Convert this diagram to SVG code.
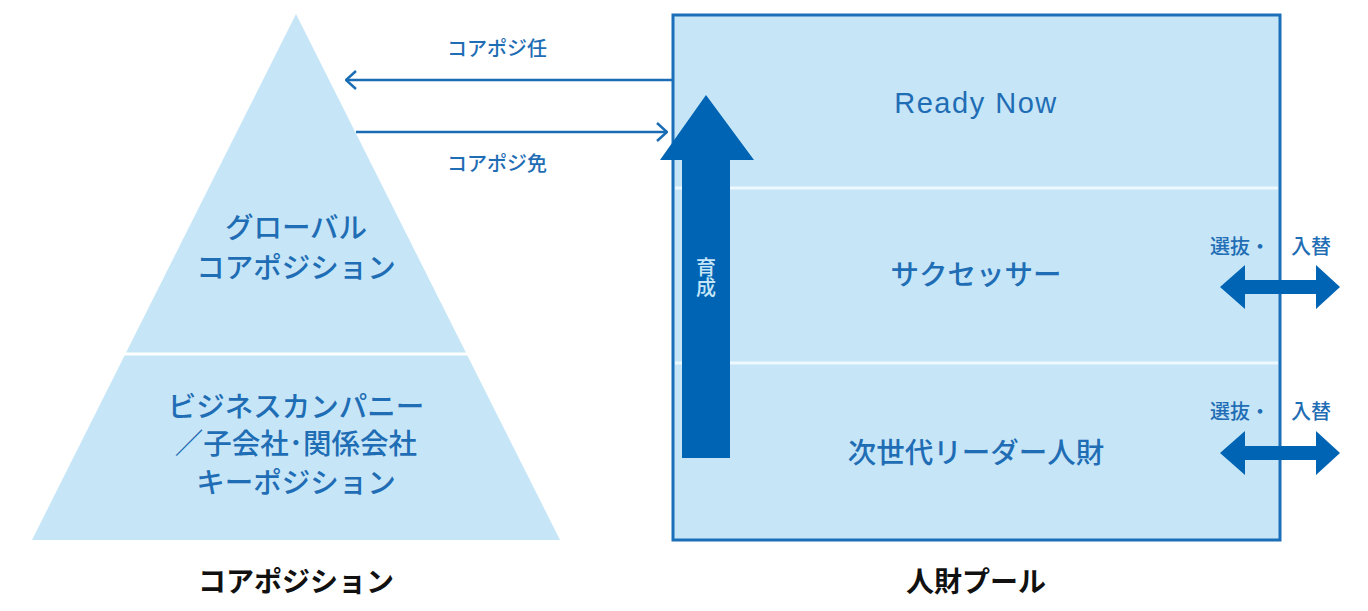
<svg xmlns="http://www.w3.org/2000/svg" width="1368" height="611" viewBox="0 0 1368 611">
<style>
.t{font-family:"Noto Sans CJK JP","Noto Sans",sans-serif;fill:#1f6db4;text-anchor:middle;font-weight:500}
.big{font-size:28.5px}
.sm{font-size:20px}
.lbl{font-family:"Noto Sans CJK JP","Noto Sans",sans-serif;font-size:28px;font-weight:bold;fill:#111;text-anchor:middle}
.fill{fill:#c6e6f8}
.dark{fill:#0064b4}
</style>
<defs>
<marker id="chev" viewBox="0 0 12 20" refX="11" refY="10" markerWidth="12" markerHeight="20" markerUnits="userSpaceOnUse" orient="auto">
<path d="M1,1 L11,10 L1,19" fill="none" stroke="#1a6db5" stroke-width="2.5"/>
</marker>
</defs>
<rect width="1368" height="611" fill="#fff"/>
<g id="pyramid">
<polygon class="fill" points="296,14 560,540 32,540"/>
<line x1="100" y1="354" x2="492" y2="354" stroke="#fff" stroke-width="3"/>
<text class="t big" x="296" y="238">グローバル</text>
<text class="t big" x="296" y="278">コアポジション</text>
<text class="t big" x="296" y="417">ビジネスカンパニー</text>
<text class="t big" x="296" y="454">／子会社･関係会社</text>
<text class="t big" x="296" y="493">キーポジション</text>
<text class="lbl" x="296" y="592">コアポジション</text>
</g>
<g id="pool">
<rect class="fill" x="673" y="15" width="607" height="525" stroke="#1a6fb8" stroke-width="3"/>
<line x1="675" y1="188" x2="1278" y2="188" stroke="#eef8ff" stroke-width="3"/>
<line x1="675" y1="363" x2="1278" y2="363" stroke="#eef8ff" stroke-width="3"/>
<text class="t" x="976" y="113" style="font-family:'Liberation Sans',Arial,sans-serif;font-size:29px;letter-spacing:1.5px;font-weight:normal">Ready Now</text>
<text class="t big" x="976" y="285">サクセッサー</text>
<text class="t big" x="976" y="463">次世代リーダー人財</text>
<text class="lbl" x="976" y="592">人財プール</text>
</g>
<g id="grow">
<polygon class="dark" points="706,95 754,160 730,160 730,458 682,458 682,160 660,160"/>
<text class="t" x="706" y="257" style="fill:#c6e6f8;font-size:20px;writing-mode:vertical-rl;text-anchor:start">育成</text>
</g>
<g id="connectors">
<line x1="672" y1="80" x2="346" y2="80" stroke="#1a6db5" stroke-width="2.5" marker-end="url(#chev)"/>
<line x1="356" y1="132" x2="667" y2="132" stroke="#1a6db5" stroke-width="2.5" marker-end="url(#chev)"/>
<text class="t sm" x="497" y="56">コアポジ任</text>
<text class="t sm" x="497" y="171">コアポジ免</text>
<polygon class="dark" points="1220,287 1245,265 1245,280 1316,280 1316,265 1340,287 1316,309 1316,294 1245,294 1245,309"/>
<polygon class="dark" points="1220,453 1245,431 1245,446 1316,446 1316,431 1340,453 1316,475 1316,460 1245,460 1245,475"/>
<text class="t sm" x="1240" y="254">選抜・</text>
<text class="t sm" x="1311" y="254">入替</text>
<text class="t sm" x="1240" y="419">選抜・</text>
<text class="t sm" x="1311" y="419">入替</text>
</g>
</svg>
